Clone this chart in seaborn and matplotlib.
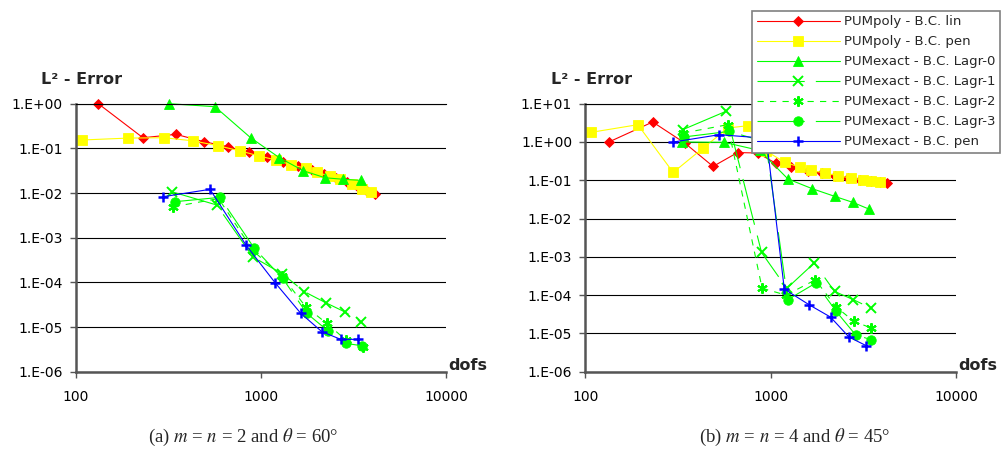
import numpy as np
import matplotlib
matplotlib.use("Agg")
import matplotlib.pyplot as plt
from matplotlib.ticker import FixedLocator, FuncFormatter, NullLocator
import seaborn as sns

sns.set_style("white")
plt.rcParams["font.family"] = ["DejaVu Sans"]
plt.rcParams["mathtext.fontset"] = "stix"
plt.rcParams["lines.scale_dashes"] = False

# ---------------- (a) m = n = 2, theta = 60 deg ----------------
a_poly_lin_dofs = [132, 230, 347, 492, 663, 861, 1077, 1314, 1585, 1888, 2193, 2543, 2915, 3304, 3700, 4130]
a_poly_lin_err = [1.0, 0.173, 0.206, 0.141, 0.109, 0.081, 0.0625, 0.0503, 0.0403, 0.0328, 0.0267, 0.0217, 0.0177, 0.0144, 0.0117, 0.0095]

a_poly_pen_dofs = [108, 192, 299, 431, 588, 769, 975, 1205, 1453, 1751, 1999, 2362, 2673, 3092, 3497, 3917]
a_poly_pen_err = [0.154, 0.17, 0.173, 0.147, 0.114, 0.088, 0.0675, 0.055, 0.043, 0.0357, 0.0292, 0.0238, 0.0203, 0.0162, 0.0123, 0.0105]

a_lagr0_dofs = [319, 564, 879, 1257, 1694, 2220, 2787, 3457]
a_lagr0_err = [1.0, 0.857, 0.173, 0.0618, 0.0315, 0.022, 0.0203, 0.0192]

a_lagr1_dofs = [329, 576, 905, 1300, 1714, 2238, 2847, 3474]
a_lagr1_err = [0.0107, 0.0054, 0.00037, 0.000157, 6.2e-5, 3.5e-5, 2.17e-5, 1.28e-5]

a_lagr2_dofs = [336, 590, 910, 1300, 1742, 2265, 2880, 3540]
a_lagr2_err = [0.00494, 0.0075, 0.0005, 0.000138, 2.86e-5, 1.21e-5, 5.1e-6, 3.6e-6]

a_lagr3_dofs = [343, 600, 920, 1310, 1767, 2293, 2872, 3532]
a_lagr3_err = [0.0064, 0.008, 0.000578, 0.000123, 2.03e-5, 8.3e-6, 4.3e-6, 3.8e-6]

a_exact_pen_dofs = [296, 530, 829, 1191, 1640, 2130, 2697, 3345]
a_exact_pen_err = [0.00828, 0.0121, 0.000687, 9.85e-5, 2.03e-5, 7.9e-6, 5.3e-6, 5.3e-6]

# ---------------- (b) m = n = 4, theta = 45 deg ----------------
b_poly_lin_dofs = [134, 231, 344, 489, 663, 850, 1064, 1294, 1587, 1888, 2219, 2610, 3030, 3472, 3884, 4236]
b_poly_lin_err = [1.0, 3.33, 0.94, 0.23, 0.53, 0.515, 0.28, 0.217, 0.177, 0.153, 0.132, 0.117, 0.103, 0.094, 0.089, 0.0848]

b_poly_pen_dofs = [107, 192, 298, 432, 589, 751, 940, 1195, 1435, 1660, 1960, 2310, 2730, 3150, 3490, 3880]
b_poly_pen_err = [1.78, 2.83, 0.160, 0.695, 2.32, 2.66, 0.59, 0.293, 0.222, 0.18, 0.155, 0.131, 0.114, 0.103, 0.093, 0.088]

b_lagr0_dofs = [331, 561, 873, 1240, 1680, 2220, 2780, 3390]
b_lagr0_err = [1.0, 0.98, 0.6, 0.108, 0.060, 0.0379, 0.0264, 0.0177]

b_lagr1_dofs = [335, 573, 893, 1222, 1718, 2213, 2793, 3475]
b_lagr1_err = [2.09, 6.3, 1.3e-3, 1.5e-4, 6.9e-4, 1.25e-4, 7.6e-5, 4.6e-5]

b_lagr2_dofs = [337, 586, 899, 1210, 1742, 2259, 2812, 3498]
b_lagr2_err = [1.71, 2.83, 1.52e-4, 1.0e-4, 2.5e-4, 4.9e-5, 2.06e-5, 1.38e-5]

b_lagr3_dofs = [339, 597, 940, 1236, 1750, 2259, 2870, 3498]
b_lagr3_err = [1.35, 1.89, 1.0, 7.6e-5, 2.06e-4, 3.75e-5, 9.2e-6, 6.8e-6]

b_exact_pen_dofs = [299, 528, 948, 1185, 1613, 2104, 2649, 3289]
b_exact_pen_err = [1.0, 1.55, 1.25, 1.44e-4, 5.6e-5, 2.67e-5, 8.0e-6, 4.75e-6]

series_labels = [
    "PUMpoly - B.C. lin",
    "PUMpoly - B.C. pen",
    "PUMexact - B.C. Lagr-0",
    "PUMexact - B.C. Lagr-1",
    "PUMexact - B.C. Lagr-2",
    "PUMexact - B.C. Lagr-3",
    "PUMexact - B.C. pen",
]

x_ticks = [100, 1000, 10000]
x_tick_labels = ["100", "1000", "10000"]

GREEN = "#00FF00"
styles = [
    dict(color="#FF0000", marker="D", markersize=5.4, markeredgewidth=0.6, linestyle="-"),
    dict(color="#FFFF00", marker="s", markersize=6.6, markeredgewidth=0.6, linestyle="-"),
    dict(color=GREEN, marker="^", markersize=7.2, markeredgewidth=0.6, linestyle="-"),
    dict(color=GREEN, marker="x", markersize=6.5, markeredgewidth=1.4, linestyle=(0, (34, 8))),
    dict(color=GREEN, marker=(6, 2, 0), markersize=7.5, markeredgewidth=1.5, linestyle=(0, (4.5, 4.5))),
    dict(color=GREEN, marker="o", markersize=6.8, markeredgewidth=0.6, linestyle=(0, (34, 8))),
    dict(color="#0000FF", marker="+", markersize=7.5, markeredgewidth=1.8, linestyle="-"),
]

panel_a = [
    (a_poly_lin_dofs, a_poly_lin_err),
    (a_poly_pen_dofs, a_poly_pen_err),
    (a_lagr0_dofs, a_lagr0_err),
    (a_lagr1_dofs, a_lagr1_err),
    (a_lagr2_dofs, a_lagr2_err),
    (a_lagr3_dofs, a_lagr3_err),
    (a_exact_pen_dofs, a_exact_pen_err),
]
panel_b = [
    (b_poly_lin_dofs, b_poly_lin_err),
    (b_poly_pen_dofs, b_poly_pen_err),
    (b_lagr0_dofs, b_lagr0_err),
    (b_lagr1_dofs, b_lagr1_err),
    (b_lagr2_dofs, b_lagr2_err),
    (b_lagr3_dofs, b_lagr3_err),
    (b_exact_pen_dofs, b_exact_pen_err),
]

W, H = 1002, 455
fig = plt.figure(figsize=(W / 100, H / 100), dpi=100)
fig.patch.set_facecolor("white")

AX_COLOR = "#555555"


def px(x, y):
    return x / W, 1 - y / H


def draw_panel(ax, data, ymin, ymax):
    ax.set_xscale("log")
    ax.set_yscale("log")
    for (dofs, err), label, st in zip(data, series_labels, styles):
        sns.lineplot(
            x=dofs, y=err, ax=ax, sort=False, estimator=None, legend=False,
            color=st["color"], marker=st["marker"], markersize=st["markersize"],
            markeredgecolor=st["color"], markerfacecolor=st["color"],
            markeredgewidth=st["markeredgewidth"], linestyle=st["linestyle"],
            linewidth=0.8, clip_on=False, label=label,
        )
    ax.set_xlim(100, 10000)
    ax.set_ylim(ymin, ymax)
    exps = range(int(round(np.log10(ymin))), int(round(np.log10(ymax))) + 1)
    ax.yaxis.set_major_locator(FixedLocator([10.0 ** e for e in exps]))
    ax.yaxis.set_minor_locator(NullLocator())
    ax.yaxis.set_major_formatter(
        FuncFormatter(lambda v, p: "1.E{:+03d}".format(int(round(np.log10(v)))))
    )
    ax.xaxis.set_major_locator(FixedLocator(x_ticks))
    ax.xaxis.set_minor_locator(NullLocator())
    ax.set_xticklabels(x_tick_labels)
    ax.set_xlabel("")
    ax.set_ylabel("")
    ax.grid(False)
    ax.yaxis.grid(True, color="black", linewidth=0.8)
    ax.set_axisbelow(True)
    for side in ("left", "bottom"):
        ax.spines[side].set_visible(True)
        ax.spines[side].set_color(AX_COLOR)
        ax.spines[side].set_linewidth(1.8)
    ax.spines["right"].set_visible(False)
    ax.spines["top"].set_visible(True)
    ax.spines["top"].set_color("black")
    ax.spines["top"].set_linewidth(0.8)
    ax.tick_params(axis="both", which="major", direction="out", length=4,
                   width=1, color=AX_COLOR, labelsize=10, labelcolor="black",
                   left=True, bottom=True)
    ax.tick_params(axis="y", pad=5.5)
    ax.tick_params(axis="x", pad=9)


ax_a = fig.add_axes([76 / W, 1 - 371.7 / H, 370 / W, 268 / H])
ax_b = fig.add_axes([585.3 / W, 1 - 371.7 / H, 370.7 / W, 268 / H])
draw_panel(ax_a, panel_a, 1e-6, 1.0)
draw_panel(ax_b, panel_b, 1e-6, 10.0)

for x_left, x_dofs in ((41, 448), (551, 958)):
    fig.text(*px(x_left, 79), "L² - Error", ha="left", va="center",
             fontsize=11.5, fontweight="bold")
    fig.text(*px(x_dofs, 366), "dofs", ha="left", va="center",
             fontsize=11.5, fontweight="bold")

cap_kw = dict(ha="center", va="center", fontsize=13.5, family="Liberation Serif")
fig.text(*px(243, 437), r"(a) $m$ = $n$ = 2 and $\theta$ = 60°", **cap_kw)
fig.text(*px(795, 437), r"(b) $m$ = $n$ = 4 and $\theta$ = 45°", **cap_kw)

handles = ax_a.get_lines()[:len(series_labels)]
leg = fig.legend(
    handles, series_labels, loc="upper right",
    bbox_to_anchor=(1000 / W, 1 - 10.7 / H), bbox_transform=fig.transFigure,
    frameon=True, fancybox=False, framealpha=1, edgecolor="#808080",
    fontsize=9.5, handlelength=6.3, handletextpad=0.3, labelspacing=0.53,
    borderpad=0.35, borderaxespad=0,
)
leg.get_frame().set_linewidth(1.2)
leg.set_zorder(10)

fig.savefig("out.png", dpi=100, facecolor="white")
